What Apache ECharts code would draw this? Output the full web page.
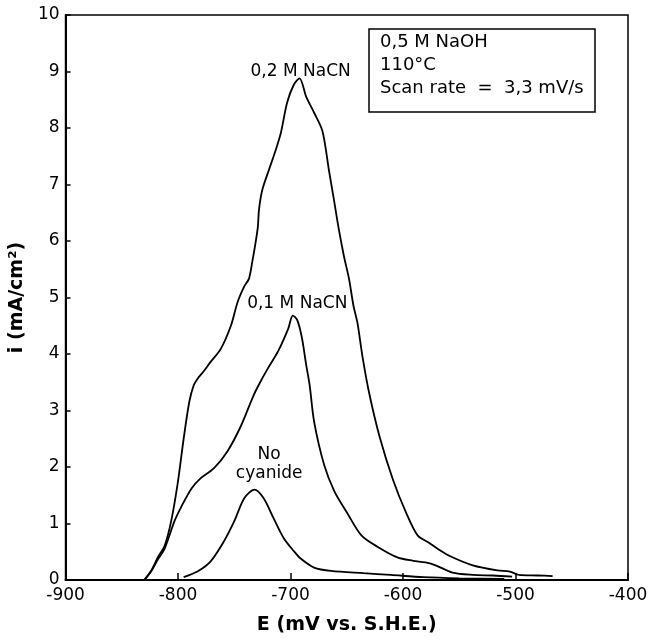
<!DOCTYPE html>
<html>
<head>
<meta charset="utf-8">
<script src="https://cdn.jsdelivr.net/npm/echarts@6/dist/echarts.min.js"></script>
<style>
html,body{margin:0;padding:0;background:#fff;}
#chart{width:655px;height:640px;}
</style>
</head>
<body>
<div id="chart"></div>
<script>
// ---- data (E in mV vs SHE, i in mA/cm2) ----
const e02 = [-830,-824,-818,-812,-806,-800,-795,-790,-786,-782,-777,-771,-762,-753,-747,-741,-737,-734,-731,-729,-728,-725,-719,-713,-708.5,-703,-697,-692,-686,-679,-672,-669,-666,-661.5,-657,-652.5,-648,-644,-640.5,-636,-630,-621,-609,-597,-587,-577,-569,-558,-538,-516,-505,-497,-480,-467];
const i02 = [0,0.16,0.4,0.6,1.05,1.75,2.5,3.15,3.45,3.58,3.7,3.86,4.09,4.5,4.92,5.2,5.33,5.63,5.98,6.26,6.56,6.91,7.27,7.62,7.92,8.45,8.77,8.88,8.55,8.27,7.97,7.67,7.27,6.74,6.2,5.73,5.33,4.85,4.55,3.95,3.3,2.55,1.78,1.18,0.79,0.66,0.55,0.42,0.26,0.17,0.15,0.09,0.08,0.07];

const e01 = [-830,-824,-818,-812,-803,-797,-788,-780,-768,-756,-744,-733,-727,-720,-711,-702,-698,-694,-690,-686,-683,-679,-670,-661,-650,-637,-622,-605,-591,-580,-571,-556,-538,-520,-503];
const i01 = [0,0.15,0.36,0.55,1.05,1.3,1.62,1.8,1.98,2.28,2.73,3.26,3.5,3.75,4.05,4.45,4.68,4.6,4.3,3.8,3.45,2.8,2.03,1.57,1.2,0.79,0.58,0.4,0.34,0.31,0.26,0.13,0.09,0.08,0.06];

const e00 = [-795,-782,-771,-759,-750,-741,-732,-724,-715,-706,-697,-691,-679,-664,-635,-611,-582,-550,-510];
const i00 = [0.05,0.16,0.33,0.69,1.04,1.45,1.6,1.45,1.09,0.74,0.51,0.38,0.22,0.16,0.12,0.09,0.05,0.03,0.02];

const xTicks = [-900,-800,-700,-600,-500,-400];
const yTicks = [0,1,2,3,4,5,6,7,8,9,10];

const curveLabels = ['0,2 M NaCN','0,1 M NaCN','No\ncyanide'];
const curveLabelE = [-691,-694,-719];
const curveLabelI = [9.0,4.9,2.05];

const infoText = ['0,5 M NaOH','110°C','Scan rate  =  3,3 mV/s'];

const xName = 'E (mV vs. S.H.E.)';
const yName = 'i (mA/cm²)';

// ---- chart ----
const pair = (xs, ys) => xs.map((x, k) => [x, ys[k]]);
const FONT = 'DejaVu Sans';

const chart = echarts.init(document.getElementById('chart'), null, {renderer: 'canvas'});

const lineSeries = (data) => ({
  type: 'line', data: data, smooth: 0.3, showSymbol: false, symbol: 'none',
  lineStyle: {color: '#000', width: 1.8}, z: 3, animation: false
});

chart.setOption({
  animation: false,
  backgroundColor: '#fff',
  grid: {left: 64, right: 27, top: 15, bottom: 58, show: true, borderColor: '#000', borderWidth: 1.5, containLabel: false},
  title: {
    text: infoText.join('\n'),
    left: 369, top: 29,
    borderColor: '#000', borderWidth: 1.5,
    padding: [2, 12, 12, 11],
    textStyle: {fontFamily: FONT, fontSize: 18, fontWeight: 'normal', color: '#000', lineHeight: 23}
  },
  xAxis: {
    type: 'value', min: xTicks[0], max: xTicks[xTicks.length - 1], interval: 100,
    name: xName, nameLocation: 'middle', nameGap: 36,
    nameTextStyle: {fontFamily: FONT, fontSize: 19, fontWeight: 'bold', color: '#000'},
    axisLine: {show: true, onZero: false, lineStyle: {color: '#000', width: 2}},
    axisTick: {show: true, inside: true, length: 7, lineStyle: {color: '#000', width: 1.5}},
    axisLabel: {fontFamily: FONT, fontSize: 17, color: '#000', margin: 7},
    splitLine: {show: false}
  },
  yAxis: {
    type: 'value', min: yTicks[0], max: yTicks[yTicks.length - 1], interval: 1,
    name: yName, nameLocation: 'middle', nameGap: 30,
    nameTextStyle: {fontFamily: FONT, fontSize: 19, fontWeight: 'bold', color: '#000'},
    axisLine: {show: true, lineStyle: {color: '#000', width: 2}},
    axisTick: {show: true, inside: true, length: 5, lineStyle: {color: '#000', width: 1.5}},
    axisLabel: {fontFamily: FONT, fontSize: 17, color: '#000', margin: 6},
    splitLine: {show: false}
  },
  series: [
    lineSeries(pair(e02, i02)),
    lineSeries(pair(e01, i01)),
    lineSeries(pair(e00, i00))
  ]
});

// curve labels anchored at data coordinates
const labelGraphics = curveLabels.map((t, k) => {
  const p = chart.convertToPixel({gridIndex: 0}, [curveLabelE[k], curveLabelI[k]]);
  return {
    type: 'text', x: p[0], y: p[1], z: 10,
    style: {text: t, fill: '#000', font: '17px "DejaVu Sans"', align: 'center', verticalAlign: 'middle', lineHeight: 19}
  };
});
chart.setOption({graphic: labelGraphics});
</script>
</body>
</html>
